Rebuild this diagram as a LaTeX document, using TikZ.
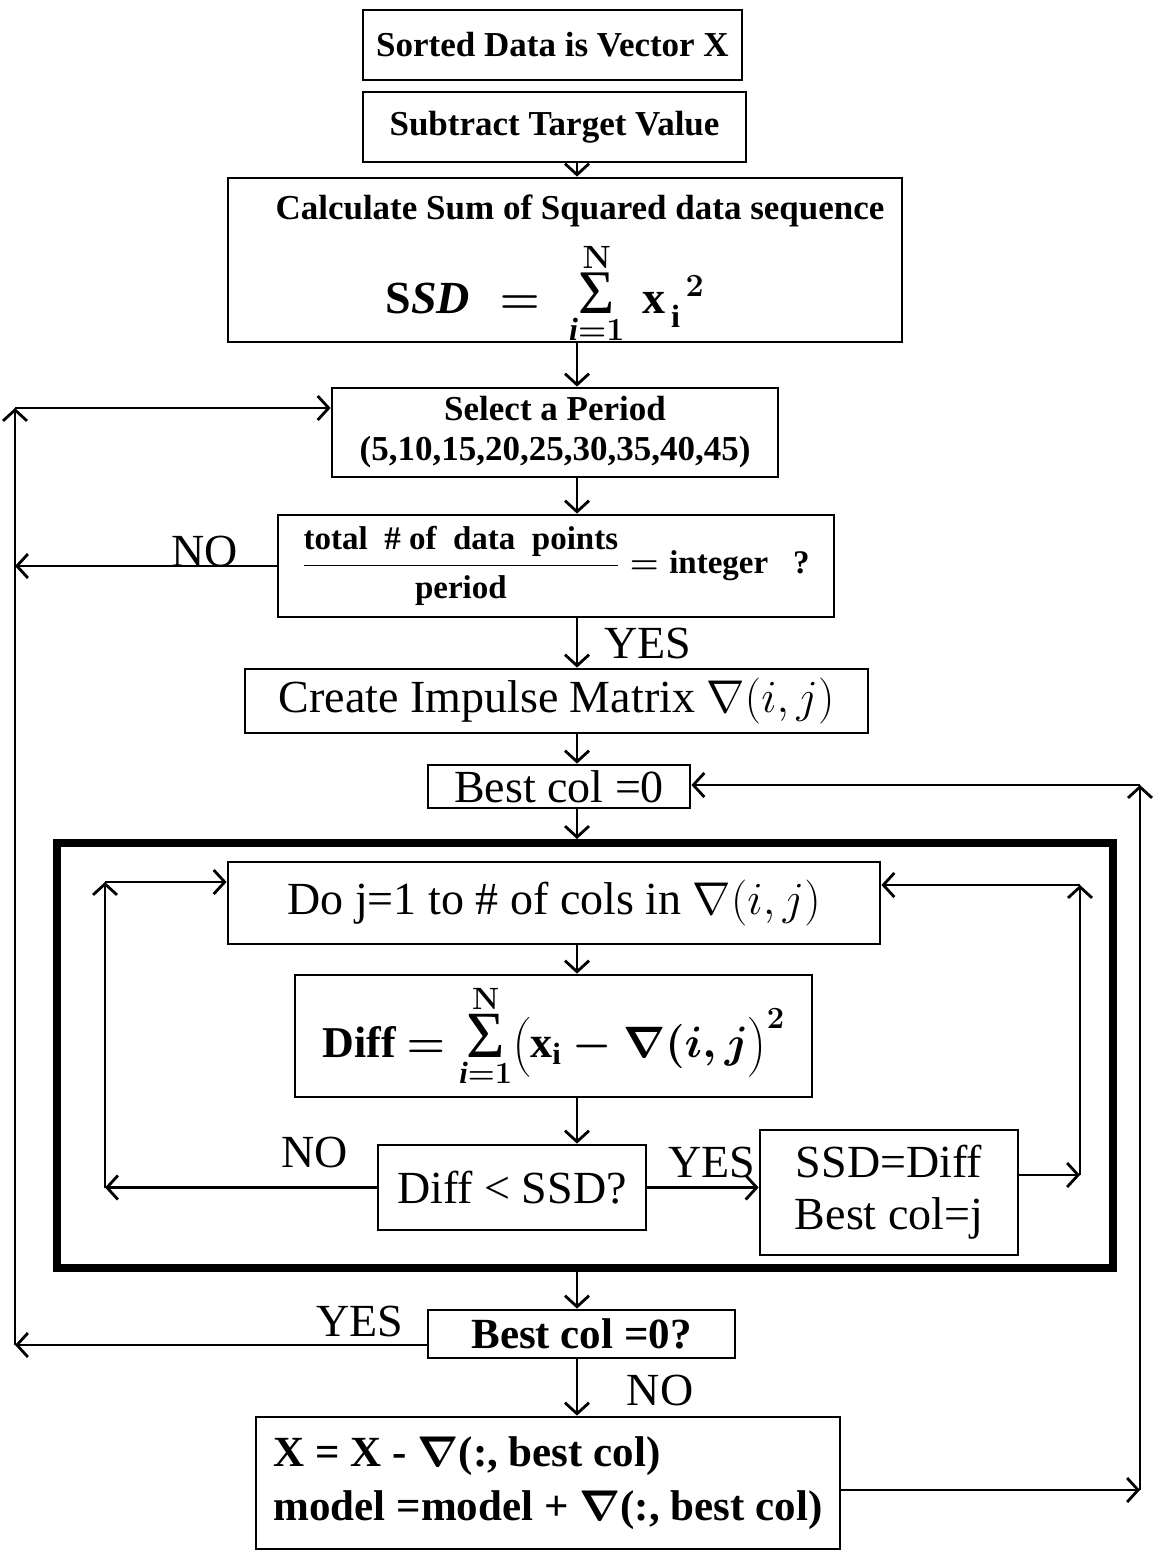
\RequirePackage{fix-cm}
\documentclass[tikz,border=0pt]{standalone}
\usepackage{amsmath}
\usepackage{fontspec}
\setmainfont{Liberation Serif}
\usetikzlibrary{arrows.meta}
\newcommand{\smallbf}{\fontsize{35}{40}\selectfont\bfseries\boldmath}
\newcommand{\bigbf}{\fontsize{43}{54}\selectfont\bfseries\boldmath}
\newcommand{\bigrm}{\fontsize{46}{52}\selectfont}
\newcommand{\bigsum}[1]{\mathop{\text{\fontsize{#1}{#1}\selectfont\mdseries\char"03A3}}\limits}
\tikzset{
  flowbox/.style  = {draw, line width=2.8pt, inner sep=0pt, align=center},
  loopbox/.style  = {draw, line width=8pt, inner sep=0pt},
  flowarr/.style  = {-{Straight Barb[length=11pt,width=24pt]}, line width=2.8pt},
  answer/.style   = {font=\bigrm, inner sep=0pt}
}

\begin{document}
\begin{tikzpicture}[x=1pt,y=-1pt]
  \useasboundingbox (0,0) rectangle (1157,1552);
  % main column
  \node[flowbox,minimum width=379pt,minimum height=70pt,font=\smallbf] (sorted) at (552.5,45) {Sorted Data is Vector X};
  \node[flowbox,minimum width=383pt,minimum height=70pt,font=\smallbf] (subtract) at (554.5,127) {Subtract Target Value};
  \node[flowbox,minimum width=674pt,minimum height=164pt] (calc) at (565,260) {};
  \node[font=\smallbf,inner sep=0pt] (calctxt) at (580,211) {Calculate Sum of Squared data sequence};
  \node[font=\fontsize{46}{52}\selectfont\boldmath,inner sep=0pt] (ssd) at (545,293)
       {$\mathrm{S}\mathit{SD}\;=\;\bigsum{62}_{\mathit{i}=1}^{\mathbf{N}}\,\mathrm{x}_{\,\mathrm{i}}^{\;\;2}$};
  \node[flowbox,minimum width=446pt,minimum height=89pt,font=\smallbf] (period) at (555,432.5) {Select a Period\\(5,10,15,20,25,30,35,40,45)};
  \node[flowbox,minimum width=556pt,minimum height=102pt,font=\fontsize{33}{38}\selectfont\bfseries\boldmath] (test) at (556,566)
       {$\dfrac{\text{total\ \ \# of\ \ data\ \ points}}{\text{period}}=\text{integer\ \ \ ?}$};
  \node[flowbox,minimum width=623pt,minimum height=64pt,font=\bigrm] (impulse) at (556.5,701) {Create Impulse Matrix $\nabla(i,j)$};
  \node[flowbox,minimum width=262pt,minimum height=43pt,font=\bigrm] (best0) at (559,786.5) {Best col =0};
  % inner loop
  \node[loopbox,minimum width=1056pt,minimum height=425pt] (loop) at (585,1055.5) {};
  \node[flowbox,minimum width=652pt,minimum height=82pt,font=\bigrm] (doj) at (554,903) {Do j=1 to \# of cols in $\nabla(i,j)$};
  \node[flowbox,minimum width=517pt,minimum height=122pt,font=\fontsize{44}{50}\selectfont\bfseries\boldmath] (diff) at (553.5,1036)
       {Diff $=\bigsum{66}_{\mathit{i}=1}^{\mathbf{N}}\bigl(\mathrm{x}_{\mathrm{i}}-\nabla(i,j\bigr)^{2}$};
  \node[flowbox,minimum width=268pt,minimum height=85pt,font=\bigrm] (cmp) at (512,1187.5) {Diff < SSD?};
  \node[flowbox,minimum width=258pt,minimum height=125pt,font=\bigrm] (upd) at (889,1192.5) {SSD=Diff\\Best col=j};
  % tail
  \node[flowbox,minimum width=307pt,minimum height=48pt,font=\bigbf] (bestq) at (581.5,1334) {Best col =0?};
  \node[flowbox,minimum width=584pt,minimum height=132pt,font=\bigbf,align=left] (xbox) at (548,1483)
       {X = X - $\nabla$(:, best col)\\model =model + $\nabla$(:, best col)};
  % corners
  \coordinate (axis) at (577,0);
  \coordinate (lt) at (15,408);
  \coordinate (lb) at (15,1345);
  \coordinate (rt) at (1140,785);
  \coordinate (rb) at (1140,1490);
  \coordinate (ilt) at (105,882);
  \coordinate (ilb) at (105,1188);
  \coordinate (irt) at (1080,885);
  \coordinate (irb) at (1080,1175);
  % straight down
  \draw[flowarr] (subtract.south -| axis) -- (calc.north -| axis);
  \draw[flowarr] (calc.south -| axis) -- (period.north -| axis);
  \draw[flowarr] (period.south -| axis) -- (test.north -| axis);
  \draw[flowarr] (test.south -| axis) -- (impulse.north -| axis);
  \draw[flowarr] (impulse.south -| axis) -- (best0.north -| axis);
  \draw[flowarr] (best0.south -| axis) -- (loop.north -| axis);
  \draw[flowarr] (doj.south -| axis) -- (diff.north -| axis);
  \draw[flowarr] (diff.south -| axis) -- (cmp.north -| axis);
  \draw[flowarr] (loop.south -| axis) -- (bestq.north -| axis);
  \draw[flowarr] (bestq.south -| axis) -- (xbox.north -| axis);
  % outer loops
  \draw[flowarr] (test.west) -- (test.west -| lt);
  \draw[flowarr] (bestq.west |- lb) -- (lb);
  \draw[flowarr] (lb) -- (lt);
  \draw[flowarr] (lt) -- (lt -| period.west);
  \draw[flowarr] (xbox.east |- rb) -- (rb);
  \draw[flowarr] (rb) -- (rt);
  \draw[flowarr] (rt) -- (rt -| best0.east);
  % inner loops
  \draw[flowarr] (cmp.west) -- (cmp.west -| ilb);
  \draw[flowarr] (ilb) -- (ilt);
  \draw[flowarr] (ilt) -- (ilt -| doj.west);
  \draw[flowarr] (cmp.east) -- (cmp.east -| upd.west);
  \draw[flowarr] (upd.east |- irb) -- (irb);
  \draw[flowarr] (irb) -- (irt);
  \draw[flowarr] (irt) -- (irt -| doj.east);
  % labels
  \node[answer] (no1) at (205,551) {NO};
  \node[answer] (yes1) at (648,643) {YES};
  \node[answer] (no2) at (315,1152) {NO};
  \node[answer] (yes2) at (712,1162) {YES};
  \node[answer] (yes3) at (360,1321) {YES};
  \node[answer] (no3) at (660,1390) {NO};
\end{tikzpicture}
\end{document}
